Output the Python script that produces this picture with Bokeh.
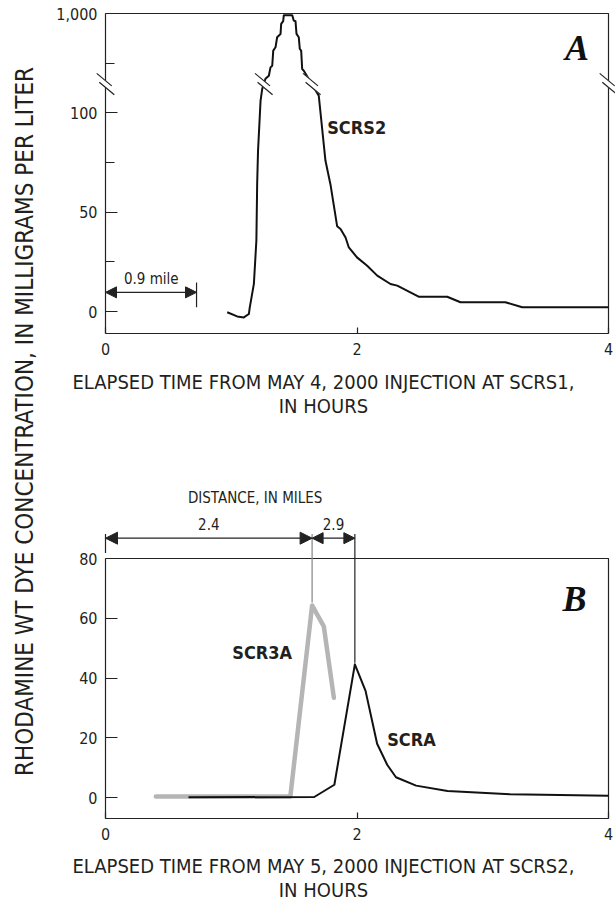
import numpy as np
from bokeh.plotting import figure
from bokeh.models import Arrow, NormalHead, Label, FixedTicker, Range1d
from bokeh.layouts import row, column
from bokeh.embed import file_html
from bokeh.resources import INLINE

# ---------------- data ----------------
# Panel A: SCRS2, hours after injection at SCRS1 (May 4, 2000), mg/L
scrs2_hours = [0.968, 1.047, 1.10, 1.14, 1.147, 1.18, 1.20, 1.206, 1.213, 1.233, 1.246,
               1.272, 1.299, 1.312, 1.326, 1.334, 1.352, 1.365, 1.392, 1.397, 1.413, 1.418,
               1.485, 1.497, 1.511, 1.519, 1.537, 1.545, 1.556, 1.564, 1.577, 1.696, 1.749,
               1.789, 1.842, 1.869, 1.909, 1.935, 2.0, 2.081, 2.161, 2.266, 2.32, 2.49,
               2.717, 2.823, 3.18, 3.314, 4.0]
scrs2_conc = [-0.3, -2.4, -2.9, -1.2, 2, 14, 36, 64, 81, 209, 315,
              409, 436, 512, 527, 664, 694, 785, 815, 906, 930, 985,
              985, 936, 930, 815, 785, 679, 664, 497, 482, 255, 76,
              64, 43, 41.6, 37.3, 32.3, 27.3, 23.1, 18.1, 13.9, 13.1, 7.5,
              7.5, 4.7, 4.7, 2.2, 2.2]

# Panel B: hours after injection at SCRS2 (May 5, 2000), mg/L
scr3a_hours = [0.40, 1.47, 1.643, 1.736, 1.816]
scr3a_conc = [0.4, 0.4, 64.3, 57.3, 33.4]
scra_hours = [0.66, 1.66, 1.82, 1.983, 2.068, 2.16, 2.24, 2.31, 2.47, 2.72, 3.22, 4.0]
scra_conc = [0.1, 0.2, 4.3, 44.6, 35.7, 18.0, 11.0, 6.8, 4.0, 2.2, 1.1, 0.6]

x_ticks = [0, 2, 4]
a_y_ticks = [0, 50, 100, 1000]
a_y_minor = [25, 75, 550]
b_y_ticks = [0, 20, 40, 60, 80]

FONT = "DejaVu Sans Condensed, Noto Sans Condensed, Roboto, sans-serif"
TXT = "#231f20"
LINE = "#222222"

def tr(v):
    """broken axis: linear 0-100, then 100-1000 compressed into 50 units"""
    v = np.asarray(v, dtype=float)
    return np.where(v <= 100, v, 100 + (v - 100) / 18.0)


def make_panel(height, ymin, ymax, pad_top, pad_bottom, yticks, yminor, overrides=None):
    width = 565
    pad_left, pad_right = 55, 7
    sx = (width - pad_left - pad_right) / 4.0
    sy = (height - pad_top - pad_bottom) / (ymax - ymin)
    p = figure(width=width, height=height,
               x_range=Range1d(-pad_left / sx, 4 + pad_right / sx),
               y_range=Range1d(ymin - pad_bottom / sy, ymax + pad_top / sy),
               output_backend="svg", toolbar_location=None,
               min_border_left=0, min_border_right=0, min_border_top=0, min_border_bottom=0)
    p.xgrid.visible = False
    p.ygrid.visible = False
    p.title.visible = False
    p.outline_line_color = None
    for ax in (p.xaxis[0], p.yaxis[0]):
        ax.axis_line_color = LINE
        ax.axis_line_width = 1.2
        ax.major_tick_line_color = LINE
        ax.minor_tick_line_color = LINE
        ax.major_tick_line_width = 1.2
        ax.minor_tick_line_width = 1.2
        ax.major_tick_out = 0
        ax.minor_tick_out = 0
        ax.major_label_text_font = FONT
        ax.major_label_text_font_size = "16px"
        ax.major_label_text_color = TXT
    p.xaxis.fixed_location = ymin
    p.xaxis.bounds = (0, 4)
    p.xaxis.ticker = FixedTicker(ticks=x_ticks)
    p.xaxis.major_tick_in = 6
    p.xaxis.minor_tick_in = 0
    p.xaxis.major_label_standoff = 9
    p.yaxis.fixed_location = 0
    p.yaxis.bounds = (ymin, ymax)
    p.yaxis.ticker = FixedTicker(ticks=yticks, minor_ticks=yminor)
    p.yaxis.major_tick_in = 12
    p.yaxis.minor_tick_in = 9
    p.yaxis.major_label_standoff = 8
    if overrides:
        p.yaxis.major_label_overrides = overrides
    # top and right sides of the box
    p.line([0, 4, 4], [ymax, ymax, ymin], line_color=LINE, line_width=1.2)
    return p, sx, sy


def seg(p, x0, y0, x1, y1, color=LINE, width=1.2):
    p.add_layout(Arrow(end=None, x_start=x0, y_start=y0, x_end=x1, y_end=y1,
                       line_color=color, line_width=width))


def dim_arrow(p, x0, x1, y, size=12):
    p.add_layout(Arrow(start=NormalHead(size=size, fill_color=LINE, line_color=LINE),
                       end=NormalHead(size=size, fill_color=LINE, line_color=LINE),
                       x_start=x0, y_start=y, x_end=x1, y_end=y,
                       line_color=LINE, line_width=1.2))


def brk(p, xc, yc, sx, sy):
    hx, hy = 7.5 / sx, 6.25 / sy
    ox, oy = 1.3 / sx, 4.4 / sy
    seg(p, xc - hx * 1.1, yc + hy * 1.1, xc + hx * 1.1, yc - hy * 1.1, color="white", width=6)
    for s in (-1, 1):
        cx, cy = xc + s * ox, yc - s * oy
        seg(p, cx - hx, cy + hy, cx + hx, cy - hy)


def txt(p, x, y, text, size="18px", align="center", style_="normal", font=FONT, color=TXT):
    p.add_layout(Label(x=x, y=y, text=text, text_font=font, text_font_size=size,
                       text_align=align, text_baseline="middle", text_font_style=style_,
                       text_color=color))

# ---------------- panel A ----------------
a_ticks_t = [float(v) for v in tr(a_y_ticks)]
p1, sx1, sy1 = make_panel(430, -11, 150, 13, 97, a_ticks_t, [float(v) for v in tr(a_y_minor)],
                          {a_ticks_t[i]: f"{a_y_ticks[i]:,}" for i in range(len(a_y_ticks))})

p1.line(scrs2_hours, tr(scrs2_conc), line_color="#111111", line_width=2, line_join="round")

BRK = 114.5
h = np.array(scrs2_hours)
t = tr(scrs2_conc)
ipk = int(np.argmax(t))
x_left = float(np.interp(BRK, t[:ipk + 1], h[:ipk + 1]))
x_right = float(np.interp(BRK, t[ipk:][::-1], h[ipk:][::-1]))
for xb in (0.0, 4.0, x_left, x_right):
    brk(p1, xb, BRK, sx1, sy1)

# 0.9 mile dimension
dim_arrow(p1, 0.0, 0.724, 9.7, size=11)
seg(p1, 0.724, 2.2, 0.724, 14.7)
txt(p1, 0.364, 16.4, "0.9 mile", size="15px")

txt(p1, 1.763, 92.6, "SCRS2", size="18px", align="left", style_="bold")
txt(p1, 3.75, 132.5, "A", size="36px", style_="bold italic", font="Liberation Serif", color="#111111")

txt(p1, 1.733, -35.2, "ELAPSED TIME FROM MAY 4, 2000 INJECTION AT SCRS1,", size="20px")
txt(p1, 1.733, -47.3, "IN HOURS", size="20px")

# ---------------- panel B ----------------
p2, sx2, sy2 = make_panel(475, -7, 80, 128, 87, b_y_ticks, [])

p2.line(scr3a_hours, scr3a_conc, line_color="#b5b5b5", line_width=4.5, line_join="round", line_cap="round")
p2.line(scra_hours, scra_conc, line_color="#111111", line_width=2, line_join="round")

pk3 = int(np.argmax(scr3a_conc))
pka = int(np.argmax(scra_conc))
x3, y3 = scr3a_hours[pk3], scr3a_conc[pk3]
xa, ya = scra_hours[pka], scra_conc[pka]
seg(p2, x3, 88.2, x3, y3 + 1.0, color="#8c8c8c", width=1.3)
seg(p2, xa, 88.2, xa, ya + 0.5, color=LINE, width=1.2)
seg(p2, 0.0, 88.2, 0.0, 81.8)
dim_arrow(p2, 0.0, x3, 86.8, size=12)
dim_arrow(p2, x3, xa, 86.8, size=11)
txt(p2, x3 / 2, 91.4, "2.4", size="15px")
txt(p2, (x3 + xa) / 2, 91.4, "2.9", size="15px")
txt(p2, 1.19, 100.1, "DISTANCE, IN MILES", size="15px")

txt(p2, 1.008, 48.4, "SCR3A", size="18px", align="left", style_="bold")
txt(p2, 2.24, 19.6, "SCRA", size="18px", align="left", style_="bold")
txt(p2, 3.73, 66.3, "B", size="36px", style_="bold italic", font="Liberation Serif", color="#111111")

txt(p2, 1.733, -23.0, "ELAPSED TIME FROM MAY 5, 2000 INJECTION AT SCRS2,", size="20px")
txt(p2, 1.733, -31.0, "IN HOURS", size="20px")

# ---------------- shared y title ----------------
p0 = figure(width=50, height=905, x_range=Range1d(0, 50), y_range=Range1d(905, 0),
            output_backend="svg", toolbar_location=None,
            min_border_left=0, min_border_right=0, min_border_top=0, min_border_bottom=0)
p0.axis.visible = False
p0.grid.visible = False
p0.title.visible = False
p0.outline_line_color = None
p0.add_layout(Label(x=24, y=421, text="RHODAMINE WT DYE CONCENTRATION, IN MILLIGRAMS PER LITER",
                    angle=np.pi / 2, text_align="center", text_baseline="middle",
                    text_font=FONT, text_font_size="24px", text_color=TXT))

layout = row(p0, column(p1, p2, spacing=0), spacing=0)
open("out.html", "w").write(file_html(layout, INLINE))
